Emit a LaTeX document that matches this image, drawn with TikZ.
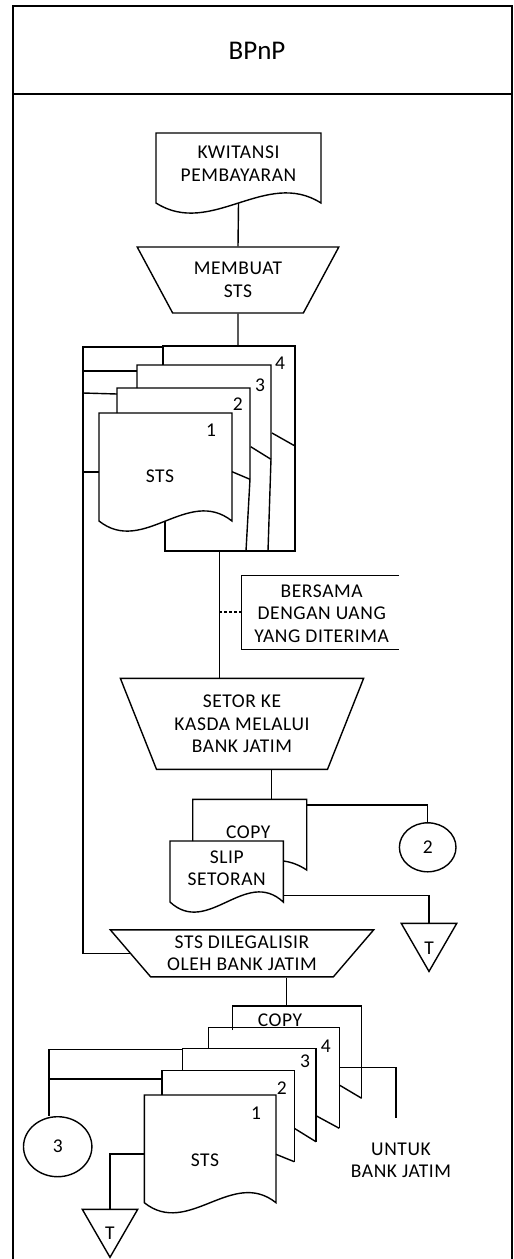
\documentclass[tikz,border=0pt]{standalone}
\usepackage{fontspec}
\setmainfont{Carlito}[LetterSpace=3]
\newfontfamily\lanefont{Carlito}
\usepackage{tikz}
\usetikzlibrary{positioning, shapes.geometric}

\begin{document}
\begin{tikzpicture}[
  x=1pt, y=-1pt,
  every node/.style={font=\fontsize{19.5}{22.5}\selectfont, inner sep=0pt, align=center},
  lane/.style={line width=1.8pt},
  flow/.style={line width=1.4pt, line join=miter},
  manualop/.style={
    trapezium, trapezium stretches=true, shape border rotate=180,
    draw, line width=1.4pt, trapezium angle=#1
  },
  offpage/.style={
    regular polygon, regular polygon sides=3, shape border rotate=180,
    draw, line width=1.4pt, minimum size=64pt
  },
  onpage/.style={ellipse, draw, line width=1.4pt},
  notelink/.style={dash pattern=on 3pt off 2pt, line width=1.2pt},
]
\useasboundingbox (0,0) rectangle (514,1259);

% === LANE ===
\draw[lane] (13,1262) -- (13,6) -- (512,6) -- (512,1262);
\draw[lane] (13,94) -- (512,94);
\node[font=\lanefont\fontsize{27}{30}\selectfont] (lane) at (257,50.5) {BPnP};

% === KWITANSI ===
\draw[flow] (156,133) -- (321,133) -- (321,203)
  .. controls (266,168) and (211,238) .. (156,203) -- cycle;
\node (kwitansi) at (238.5,163.5) {KWITANSI\\PEMBAYARAN};
\coordinate (kwitansi-out) at (238.5,203);

\node[manualop=55.7, minimum width=202pt, minimum height=66pt] (membuat) at (238,280) {MEMBUAT\\STS};
\draw[flow] (kwitansi-out) -- (membuat.north);

% === STS, 4 copies ===
\draw[flow] (163,365) -- (163,346) -- (295,346) -- (295,551) -- (165,551) -- (165,521);
\draw[flow] (272,433) -- (295,446);
\draw[flow] (137,388) -- (137,365) -- (271,365) -- (271,459) -- (268,551);
\draw[flow] (250.7,446.7) -- (271,459.3);
\draw[flow] (117,413) -- (117,388) -- (250,388) -- (250,479) -- (246,551);
\draw[flow] (232,471.7) -- (250,479.3);
\draw[flow] (99,413) -- (232,413) -- (232,521)
  .. controls (187.7,486) and (143.3,556) .. (99,521) -- cycle;
\node (stsA) at (160,476.7) {STS};
\node (stsA-n1) at (211,430) {1};
\node (stsA-n2) at (237.7,404) {2};
\node (stsA-n3) at (260,385) {3};
\node (stsA-n4) at (280,363) {4};
\coordinate (stsA-in) at (238,346);
\coordinate (stsA-out) at (219.3,551);
\coordinate (stsA-c4) at (163,347);
\coordinate (stsA-c3) at (137,371);
\coordinate (stsA-c2) at (117,394);
\coordinate (stsA-c1) at (99,472);
\coordinate (backbone) at (83,347);
\draw[flow] (membuat.south) -- (stsA-in);
\draw[flow] (stsA-c3) -- (stsA-c3 -| backbone);
\draw[flow] (stsA-c2) -- (83,393);
\draw[flow] (stsA-c1) -- (stsA-c1 -| backbone);

% === Note ===
\draw[flow] (399,575.5) -- (241.7,575.5) -- (241.7,649.3) -- (399,649.3);
\node (bersama) at (321.7,613.3) {BERSAMA\\DENGAN UANG\\YANG DITERIMA};
\coordinate (note-tap) at (219.3,612);
\coordinate (note-edge) at (241.7,612);
\draw[notelink] (note-tap) -- (note-edge);

\node[manualop=63.7, minimum width=244pt, minimum height=91pt] (setor) at (242,723.8) {SETOR KE\\KASDA MELALUI\\BANK JATIM};
\draw[flow] (stsA-out) -- (stsA-out |- setor.north);

% === SLIP SETORAN ===
\coordinate (slipcopy-in) at (271.7,799.3);
\draw[flow] (slipcopy-in |- setor.south) -- (slipcopy-in);
\draw[flow] (192.7,841) -- (192.7,799.3) -- (306.7,799.3) -- (306.7,870)
  .. controls (300,865.5) and (292,862) .. (283.3,861);
\node (slipcopy) at (248.3,832.7) {COPY};
\draw[flow] (170,841) -- (283.3,841) -- (283.3,902)
  .. controls (245.5,867) and (207.8,937) .. (170,902) -- cycle;
\node (slip) at (226.7,868) {SLIP\\SETORAN};

\node[onpage, minimum width=56.6pt, minimum height=49pt] (conn2) at (427.7,847.3) {2};
\coordinate (slipcopy-out) at (306.7,805);
\draw[flow] (slipcopy-out) -| (conn2.north);

\node[offpage] (store1) at (429,939.4) {};
\node (store1-label) at (429,948) {T};
\coordinate (slip-out) at (283.3,895.7);
\draw[flow] (slip-out) -| (store1.north);

% === LEGALISIR ===
\node[manualop=46.9, minimum width=264pt, minimum height=47pt] (legal) at (242,953.3) {STS DILEGALISIR\\OLEH BANK JATIM};
\draw[flow] (stsA-c4) -- (backbone) |- (legal.west);
\coordinate (copyB-in) at (286.7,1006);
\draw[flow] (copyB-in |- legal.south) -- (copyB-in);

% === STS, 4 copies + COPY ===
\draw[flow] (232.3,1030) -- (232.3,1006) -- (361.7,1006) -- (361.7,1098.3);
\draw[flow] (339.3,1085) -- (361.7,1098.3);
\draw[flow] (208.3,1048.3) -- (208.3,1027.7) -- (339.3,1027.7) -- (339.3,1128.3);
\draw[flow] (316,1115.7) -- (339.3,1128.3);
\draw[flow] (182.3,1070.7) -- (182.3,1048.3) -- (316,1048.3) -- (316,1141.7);
\draw[flow] (294.3,1128.3) -- (316,1141.7);
\draw[flow] (162,1095) -- (162,1070.7) -- (294.3,1070.7) -- (294.3,1161.7);
\draw[flow] (276,1154.3) -- (294.3,1161.7);
\draw[flow] (144.3,1095) -- (276,1095) -- (276,1202.7)
  .. controls (232.1,1167.7) and (188.2,1237.7) .. (144.3,1202.7) -- cycle;
\node (stsB-copy) at (280,1020) {COPY};
\node (stsB) at (205,1160) {STS};
\node (stsB-n1) at (256,1113.3) {1};
\node (stsB-n2) at (281.7,1088.3) {2};
\node (stsB-n3) at (305,1061.7) {3};
\node (stsB-n4) at (325.7,1046.7) {4};

\node[onpage, minimum width=68.4pt, minimum height=60pt] (conn3) at (57.7,1146.7) {3};
\coordinate (stsB-c3) at (182.3,1049.3);
\coordinate (stsB-c2) at (162,1079);
\coordinate (bus3) at (49,1049.3);
\draw[flow] (stsB-c3) -- (bus3) -- (bus3 |- conn3.north);
\draw[flow] (stsB-c2) -- (stsB-c2 -| bus3);

\node[offpage] (store2) at (110,1225.3) {};
\node (store2-label) at (110,1233) {T};
\coordinate (stsB-c1) at (144.3,1154);
\draw[flow] (stsB-c1) -| (store2.north);

\coordinate (stsB-c4) at (339.3,1067.7);
\coordinate (untuk-end) at (396,1118.3);
\draw[flow] (stsB-c4) -| (untuk-end);
\node (untuk) at (401,1160.5) {UNTUK\\BANK JATIM};

\end{tikzpicture}
\end{document}
